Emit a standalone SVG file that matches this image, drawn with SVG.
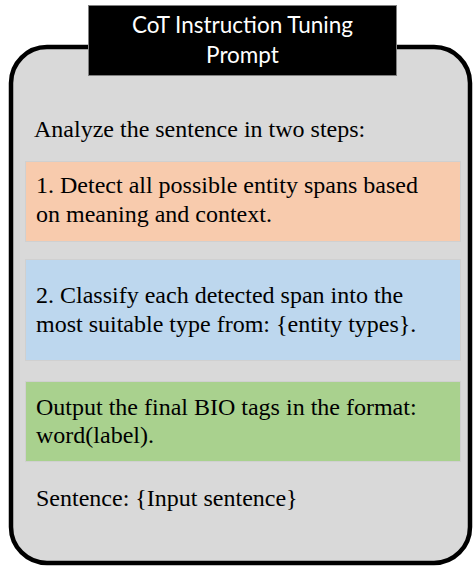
<svg xmlns="http://www.w3.org/2000/svg" width="473" height="568" viewBox="0 0 473 568">
<style>
.body{font-family:"Liberation Serif","Times New Roman",serif;font-size:24px;fill:#000}
.title{font-family:Lato,"Open Sans","Liberation Sans",sans-serif;font-size:22.5px;fill:#fff}
.box{stroke:#d0d0d0;stroke-width:1}
</style>
<g id="frame">
<rect x="11" y="47" width="459" height="516" rx="36" ry="36" fill="#d9d9d9" stroke="#000" stroke-width="4.5"/>
</g>
<g id="title">
<rect x="88.5" y="5.5" width="308" height="70" fill="#000" stroke="#808080" stroke-width="1"/>
<text class="title" x="242.5" y="33" text-anchor="middle">CoT Instruction Tuning</text>
<text class="title" x="242.5" y="63" text-anchor="middle">Prompt</text>
</g>
<g id="intro">
<text class="body" x="34" y="137">Analyze the sentence in two steps:</text>
</g>
<g id="step1">
<rect class="box" x="25.5" y="161.5" width="435" height="80" fill="#f8cbad"/>
<text class="body" x="36" y="193">1. Detect all possible entity spans based</text>
<text class="body" x="36" y="222">on meaning and context.</text>
</g>
<g id="step2">
<rect class="box" x="25.5" y="259.5" width="435" height="101" fill="#bdd7ee"/>
<text class="body" x="36" y="303">2. Classify each detected span into the</text>
<text class="body" x="36" y="332">most suitable type from: {entity types}.</text>
</g>
<g id="output">
<rect class="box" x="25.5" y="381.5" width="435" height="80" fill="#a9d18e"/>
<text class="body" x="36" y="415">Output the final BIO tags in the format:</text>
<text class="body" x="36" y="443">word(label).</text>
</g>
<g id="sentence">
<text class="body" x="36" y="506">Sentence: {Input sentence}</text>
</g>
<g id="connectors"/>
</svg>
